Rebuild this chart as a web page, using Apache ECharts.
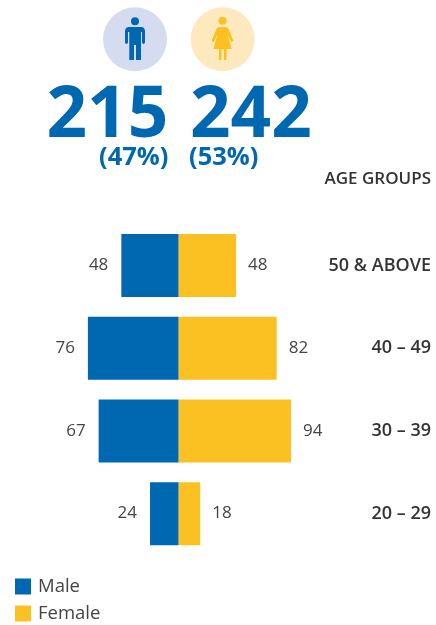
<!DOCTYPE html>
<html><head><meta charset="utf-8">
<style>html,body{margin:0;padding:0;background:#fff}#c{width:436px;height:625px}</style>
<script src="https://cdn.jsdelivr.net/npm/echarts@6/dist/echarts.min.js"></script>
</head><body><div id="c"></div>
<script>
const categories = ['50 & ABOVE', '40 – 49', '30 – 39', '20 – 29'];
const male = [48, 76, 67, 24];
const female = [48, 82, 94, 18];
const totals = ['215', '242'];
const shares = ['(47%)', '(53%)'];
const BLUE = '#0067b1', YEL = '#fbc123', FF = '"Open Sans"';
const chart = echarts.init(document.getElementById('c'), null, {renderer: 'canvas'});
const txt = (x, y, t, size, w, c, align) => ({type: 'text', x, y, silent: true,
  style: {text: t, font: `${w} ${size}px ${FF}`, fill: c, textAlign: align || 'left', textVerticalAlign: 'middle'}});
const manPts = [[128,27],[142,27],[144,28],[145,30.5],[145,42.5],[144.5,43.6],[143.5,44],[142.5,43.6],[142,42.5],[142,32],[141,32],[141,60],[136,60],[136,45],[134,45],[134,60],[129.3,60],[129.3,32],[128,32],[128,42.5],[127.5,43.6],[126.5,44],[125.5,43.6],[125,42.5],[125,30.5],[126,28]];
const womanPts = [[219,27],[226,27],[228,28],[229,30],[233.5,41],[231,42],[227.5,34],[231.5,49],[226.5,49],[226.5,60],[224,60],[224,49],[221.5,49],[221.5,60],[219,60],[219,49],[213.5,49],[217.5,34],[214,42],[211.5,41],[216,30],[217,28]];
chart.setOption({
  animation: false,
  textStyle: {fontFamily: FF},
  grid: {left: 59.2, width: 239, top: 224, height: 331, containLabel: false},
  legend: {
    orient: 'vertical', left: 15, top: 577, height: 70, itemWidth: 16, itemHeight: 16, itemGap: 8,
    icon: 'rect', data: ['Male', 'Female'], selectedMode: false,
    textStyle: {fontFamily: FF, fontSize: 18.5, lineHeight: 16, color: '#444', padding: [0, 0, 0, 2]}, padding: 0
  },
  xAxis: {type: 'value', min: -100, max: 100, show: false},
  yAxis: {
    type: 'category', data: categories, inverse: true, position: 'right',
    axisLine: {show: false}, axisTick: {show: false},
    axisLabel: {align: 'right', margin: 132.8, fontFamily: FF, fontSize: 18, fontWeight: 600, color: '#333'}
  },
  series: [
    {name: 'Male', type: 'bar', stack: 'a', barWidth: 63, itemStyle: {color: BLUE},
     data: male.map(v => -v),
     label: {show: true, position: 'left', distance: 13, formatter: p => String(-p.value), fontFamily: FF, fontSize: 17, color: '#444'}},
    {name: 'Female', type: 'bar', stack: 'a', barWidth: 63, itemStyle: {color: YEL},
     data: female,
     label: {show: true, position: 'right', distance: 12, fontFamily: FF, fontSize: 17, color: '#444'}}
  ],
  graphic: [
    {type: 'circle', silent: true, shape: {cx: 135, cy: 39.3, r: 32}, style: {fill: '#d5dcef'}},
    {type: 'circle', silent: true, shape: {cx: 222.7, cy: 39.3, r: 32}, style: {fill: '#fde9bd'}},
    {type: 'circle', silent: true, shape: {cx: 135, cy: 21.3, r: 4}, style: {fill: BLUE}},
    {type: 'circle', silent: true, shape: {cx: 222.5, cy: 20.7, r: 4}, style: {fill: YEL}},
    {type: 'polygon', silent: true, shape: {points: manPts}, style: {fill: BLUE}},
    {type: 'polygon', silent: true, shape: {points: womanPts}, style: {fill: YEL}},
    txt(46.5, 117, totals[0], 71, 700, BLUE),
    txt(190, 117, totals[1], 71, 700, BLUE),
    txt(99, 158, shares[0], 25.5, 700, BLUE),
    txt(189, 158, shares[1], 25.5, 700, BLUE),
    txt(431, 179, 'AGE GROUPS', 17, 600, '#333', 'right')
  ]
});
</script></body></html>
